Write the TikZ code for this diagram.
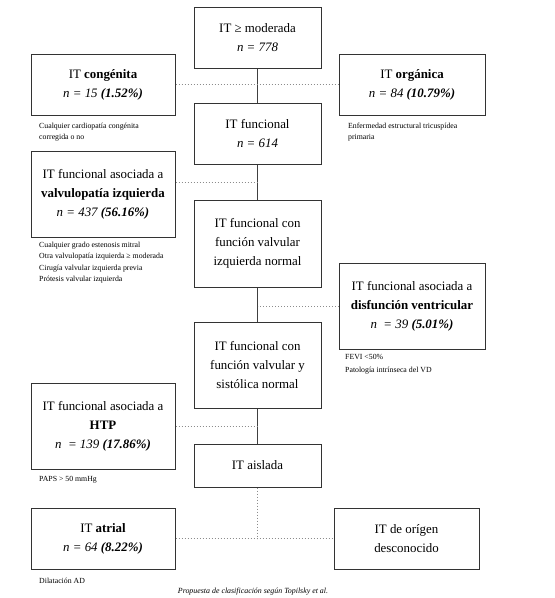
\documentclass[tikz,border=0pt]{standalone}
\usepackage{fontspec}
\setmainfont{Liberation Serif}
\begin{document}
\begin{tikzpicture}[x=1pt,y=-1pt]
		    \tikzset{
   			box/.style={draw=black!80, line width=1pt, align=center, inner sep=0pt, font=\fontsize{12.9}{19}\selectfont},
   			midbox/.style={box, minimum width=127pt},
   			sidebox/.style={box, minimum width=144pt},
   			rbox/.style={box, minimum width=146pt},
   			note/.style={anchor=north west, align=left, inner sep=0pt, font=\fontsize{7.8}{11.3}\selectfont},
    		link/.style={draw=black!75, line width=1pt},
    		dots/.style={draw=black!45, line width=0.8pt, dash pattern=on 0.8pt off 2.2pt}
		    }
            \useasboundingbox (0,0) rectangle (555,598);

            % central column
   	        \draw node[midbox, minimum height=61pt] (mod) at (257.5,37.5) {IT ≥ moderada\\\textit{n = 778}};
            \draw node[midbox, minimum height=61pt] (func) at (257.5,133.5) {IT funcional\\\textit{n = 614}};
            \draw node[midbox, minimum height=87pt] (vnorm) at (257.5,243.5) {IT funcional con\\función valvular\\izquierda normal};
            \draw node[midbox, minimum height=86pt] (sist) at (257.5,365) {IT funcional con\\función valvular y\\sistólica normal};
            \draw node[midbox, minimum height=43pt] (aisl) at (257.5,465.5) {IT aislada};

            % left column
            \draw node[sidebox, minimum height=61pt] (cong) at (103,84.5) {IT \textbf{congénita}\\\textit{n = 15 \textbf{(1.52\%)}}};
            \draw node[sidebox, minimum height=86pt] (valv) at (103,194) {IT funcional asociada a\\\textbf{valvulopatía izquierda}\\\textit{n = 437 \textbf{(56.16\%)}}};
            \draw node[sidebox, minimum height=86pt] (htp) at (103,426) {IT funcional asociada a\\\textbf{HTP}\\\textit{n \ = 139 \textbf{(17.86\%)}}};
            \draw node[sidebox, minimum height=61pt] (atr) at (103,538.5) {IT \textbf{atrial}\\\textit{n = 64 \textbf{(8.22\%)}}};

            % right column
            \draw node[rbox, minimum height=61pt] (org) at (412,84.5) {IT \textbf{orgánica}\\\textit{n = 84 \textbf{(10.79\%)}}};
            \draw node[rbox, minimum height=86pt] (disf) at (412,306) {IT funcional asociada a\\\textbf{disfunción ventricular}\\\textit{n \ = 39 \textbf{(5.01\%)}}};
            \draw node[box, minimum width=145pt, minimum height=61pt] (desc) at (406.5,538.5) {IT de orígen\\desconocido};

            % notes
            \node[note] (ncong) at (39,123) {Cualquier cardiopatía congénita\\corregida o no};
            \node[note] (norg) at (348,123) {Enfermedad estructural tricuspídea\\primaria};
            \node[note] (nvalv) at (39,242) {Cualquier grado estenosis mitral\\Otra valvulopatía izquierda ≥ moderada\\Cirugía valvular izquierda previa\\Prótesis valvular izquierda};
            \node[note, font=\fontsize{7.8}{13}\selectfont] (ndisf) at (345,354) {FEVI <50\%\\Patología intrínseca del VD};
            \node[note] (nhtp) at (39,476) {PAPS > 50 mmHg};
            \node[note] (natr) at (39,578) {Dilatación AD};
            \node[font=\fontsize{7.9}{9}\selectfont\itshape, inner sep=0pt] (cap) at (253,592) {Propuesta de clasificación según Topilsky et al.};

            % solid links
            \draw[link] (mod) -- (func);
            \draw[link] (func) -- (vnorm);
            \draw[link] (vnorm) -- (sist);
            \draw[link] (sist) -- (aisl);

            % dotted links
            \coordinate (cv) at (257.5,182);
            \coordinate (cb) at (257.5,538.5);
            \draw[dots] (cong.east) -- (org.west);
            \draw[dots] (valv.east |- cv) -- (cv);
            \draw[dots] (disf.west) -- (disf.west -| vnorm.south);
            \draw[dots] (htp.east) -- (htp.east -| sist.south);
            \draw[dots] (aisl.south) -- (cb);
            \draw[dots] (atr.east) -- (desc.west);
	    \end{tikzpicture}
\end{document}
